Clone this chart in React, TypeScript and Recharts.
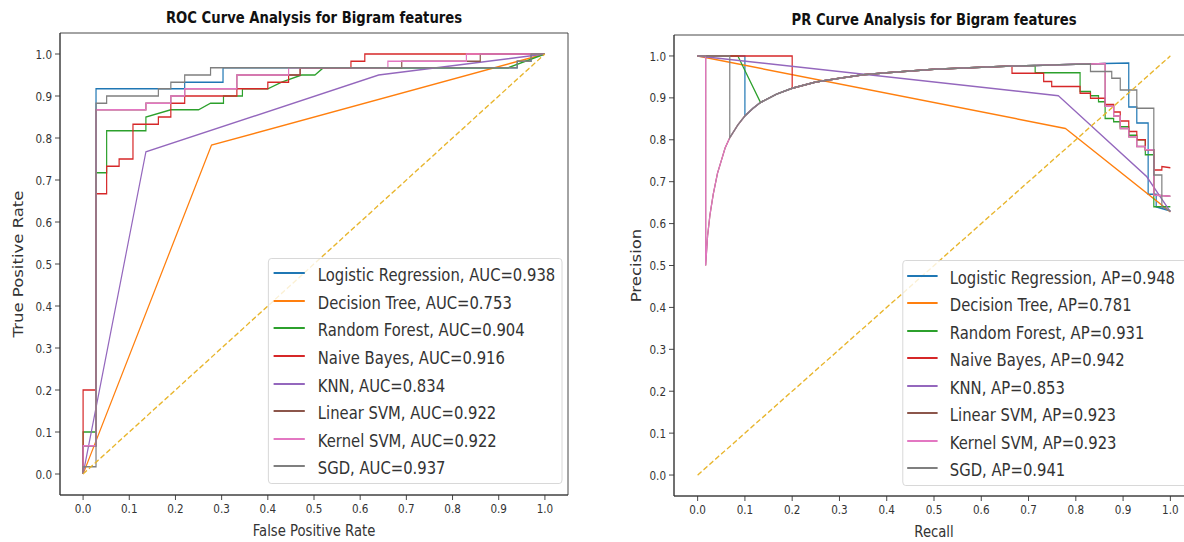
import React from "react";
import { LineChart, Line, XAxis, YAxis, Legend, ReferenceArea, Label } from "recharts";

// the reference picture is squeezed sideways, so draw wide and compress with scaleX
const SQUEEZE = 0.8;
const ux = (px: number) => px / SQUEEZE;

const FONT = "'DejaVu Sans', Verdana, sans-serif";
const INK = "#333333";

const models = ["Logistic Regression", "Decision Tree", "Random Forest", "Naive Bayes", "KNN", "Linear SVM", "Kernel SVM", "SGD"];
const colors = ["#1f77b4", "#ff7f0e", "#2ca02c", "#d62728", "#9467bd", "#8c564b", "#e377c2", "#7f7f7f"];
const rocAuc = ["0.938", "0.753", "0.904", "0.916", "0.834", "0.922", "0.922", "0.937"];
const prAp = ["0.948", "0.781", "0.931", "0.942", "0.853", "0.923", "0.923", "0.941"];
const axisTicks = [0, 0.1, 0.2, 0.3, 0.4, 0.5, 0.6, 0.7, 0.8, 0.9, 1.0];

type Pt = [number, number];

// ROC: [false positive rate, true positive rate]
const rocLogReg: Pt[] = [[0, 0], [0, 0.067], [0.028, 0.067], [0.028, 0.917], [0.22, 0.917], [0.22, 0.933], [0.303, 0.933], [0.303, 0.967], [0.94, 0.967], [0.94, 0.983], [0.97, 0.983], [0.97, 1], [1, 1]];
const rocTree: Pt[] = [[0, 0], [0.278, 0.783], [1, 1]];
const rocForest: Pt[] = [[0, 0], [0, 0.1], [0.028, 0.1], [0.028, 0.717], [0.051, 0.717], [0.051, 0.817], [0.136, 0.817], [0.136, 0.85], [0.19, 0.867], [0.25, 0.867], [0.276, 0.883], [0.304, 0.883], [0.304, 0.9], [0.345, 0.9], [0.345, 0.917], [0.4, 0.917], [0.43, 0.933], [0.473, 0.95], [0.502, 0.95], [0.52, 0.967], [0.92, 0.967], [1, 1]];
const rocBayes: Pt[] = [[0, 0], [0, 0.2], [0.028, 0.2], [0.028, 0.667], [0.051, 0.667], [0.051, 0.733], [0.078, 0.733], [0.078, 0.75], [0.108, 0.75], [0.108, 0.833], [0.163, 0.833], [0.163, 0.85], [0.19, 0.85], [0.19, 0.883], [0.22, 0.883], [0.22, 0.9], [0.333, 0.9], [0.333, 0.917], [0.4, 0.917], [0.4, 0.933], [0.445, 0.933], [0.445, 0.95], [0.47, 0.95], [0.47, 0.967], [0.58, 0.967], [0.58, 0.983], [0.61, 0.983], [0.61, 1], [1, 1]];
const rocKnn: Pt[] = [[0, 0], [0.136, 0.767], [0.64, 0.95], [1, 1]];
const rocLinearSvm: Pt[] = [[0, 0], [0, 0.067], [0.028, 0.067], [0.028, 0.867], [0.136, 0.867], [0.136, 0.883], [0.19, 0.883], [0.19, 0.9], [0.22, 0.9], [0.22, 0.917], [0.333, 0.917], [0.333, 0.95], [0.47, 0.95], [0.47, 0.967], [0.69, 0.967], [0.69, 0.983], [0.86, 0.983], [0.86, 1], [1, 1]];
const rocKernelSvm: Pt[] = [[0, 0], [0, 0.067], [0.028, 0.067], [0.028, 0.867], [0.136, 0.867], [0.136, 0.883], [0.19, 0.883], [0.19, 0.9], [0.22, 0.9], [0.22, 0.917], [0.333, 0.917], [0.333, 0.95], [0.445, 0.95], [0.445, 0.967], [0.66, 0.967], [0.66, 0.983], [0.83, 0.983], [0.83, 1], [1, 1]];
const rocSgd: Pt[] = [[0, 0], [0, 0.017], [0.028, 0.017], [0.028, 0.883], [0.051, 0.883], [0.051, 0.9], [0.163, 0.9], [0.163, 0.917], [0.19, 0.917], [0.19, 0.933], [0.22, 0.933], [0.22, 0.95], [0.276, 0.95], [0.276, 0.967], [0.94, 0.967], [0.94, 0.983], [0.97, 0.983], [0.97, 1], [1, 1]];
const chanceLine: Pt[] = [[0, 0], [1, 1]];

// PR: [recall, precision]; the thick grey arc that most curves share
const prArc: Pt[] = [[0.017, 0.5], [0.021, 0.57], [0.026, 0.62], [0.033, 0.67], [0.042, 0.72], [0.05, 0.75], [0.058, 0.78], [0.068, 0.805], [0.085, 0.835], [0.1, 0.857], [0.117, 0.875], [0.133, 0.889], [0.167, 0.909], [0.2, 0.923], [0.25, 0.938], [0.3, 0.947], [0.35, 0.955], [0.4, 0.96], [0.45, 0.964], [0.5, 0.968], [0.6, 0.973], [0.665, 0.976], [0.714, 0.977], [0.8, 0.98], [0.831, 0.981], [0.862, 0.982], [0.912, 0.983]];
const arc = (from: number, to: number) => prArc.filter(([r]) => r >= from && r <= to);

const prLogReg: Pt[] = [[0, 1], [0.1, 1], ...arc(0.1, 0.912), [0.912, 0.878], [0.929, 0.878], [0.929, 0.84], [0.953, 0.84], [0.953, 0.67], [0.97, 0.67], [0.97, 0.64], [1, 0.63]];
const prTree: Pt[] = [[0, 1], [0.778, 0.827], [1, 0.628]];
const prForest: Pt[] = [[0, 1], [0.085, 1], ...arc(0.133, 0.714), [0.714, 0.96], [0.809, 0.96], [0.809, 0.915], [0.831, 0.915], [0.831, 0.905], [0.848, 0.905], [0.848, 0.891], [0.862, 0.891], [0.862, 0.851], [0.88, 0.851], [0.88, 0.843], [0.894, 0.843], [0.894, 0.831], [0.912, 0.831], [0.912, 0.811], [0.929, 0.811], [0.929, 0.8], [0.947, 0.8], [0.947, 0.764], [0.965, 0.764], [0.965, 0.64], [1, 0.64]];
const prBayes: Pt[] = [[0, 1], [0.2, 1], ...arc(0.2, 0.665), [0.665, 0.959], [0.732, 0.959], [0.732, 0.939], [0.749, 0.939], [0.749, 0.927], [0.809, 0.927], [0.809, 0.911], [0.831, 0.911], [0.831, 0.899], [0.862, 0.899], [0.862, 0.884], [0.88, 0.884], [0.88, 0.866], [0.894, 0.866], [0.894, 0.845], [0.912, 0.845], [0.912, 0.82], [0.929, 0.82], [0.929, 0.8], [0.947, 0.8], [0.947, 0.776], [0.965, 0.776], [0.965, 0.728], [0.982, 0.728], [0.982, 0.736], [1, 0.733]];
const prKnn: Pt[] = [[0, 1], [0.763, 0.905], [0.95, 0.712], [1, 0.628]];
// both SVMs give the same curve (AP=0.923), the pink one sits on top
const prSvm: Pt[] = [[0, 1], [0.017, 1], ...arc(0.017, 0.862), [0.862, 0.88], [0.88, 0.88], [0.88, 0.857], [0.894, 0.857], [0.894, 0.827], [0.912, 0.827], [0.912, 0.807], [0.929, 0.807], [0.929, 0.784], [0.947, 0.784], [0.947, 0.776], [0.965, 0.776], [0.965, 0.668], [1, 0.665]];
const prSgd: Pt[] = [[0, 1], [0.068, 1], ...arc(0.068, 0.831), [0.831, 0.963], [0.876, 0.963], [0.876, 0.947], [0.894, 0.947], [0.894, 0.919], [0.929, 0.919], [0.929, 0.875], [0.965, 0.875], [0.965, 0.716], [0.982, 0.716], [0.982, 0.64], [1, 0.63]];

const rocSeries = [rocLogReg, rocTree, rocForest, rocBayes, rocKnn, rocLinearSvm, rocKernelSvm, rocSgd];
const prSeries = [prLogReg, prTree, prForest, prBayes, prKnn, prSvm, prSvm, prSgd];

const toRows = (pts: Pt[]) => pts.map(([x, y]) => ({ x, y }));
const fmt = (v: number) => v.toFixed(1);

type Box = { left: number; top: number; right: number; bottom: number };
type LegendGeo = Box & { swatchLeft: number; textLeft: number; firstRow: number; rowPitch: number };

type PanelProps = {
  left: number;
  width: number;
  plot: Box;
  title: string;
  titleBaseline: number;
  xLabel: string;
  xLabelBaseline: number;
  yLabel: string;
  yLabelX: number;
  series: Pt[][];
  labels: string[];
  legend: LegendGeo;
};

const LegendBox = ({ payload, labels, geo }: { payload?: any[]; labels: string[]; geo: LegendGeo }) => {
  const items = [...(payload ?? [])]
    .filter((p) => labels.includes(String(p.value)))
    .sort((a, b) => labels.indexOf(String(a.value)) - labels.indexOf(String(b.value)));
  return (
    <div
      style={{
        position: "relative",
        width: "100%",
        height: geo.bottom - geo.top,
        boxSizing: "border-box",
        border: "1px solid #d4d4d4",
        borderRadius: 4,
        background: "rgba(255,255,255,0.8)",
        fontFamily: FONT,
      }}
    >
      {items.map((it, i) => {
        const cy = Math.round(geo.firstRow - geo.top + i * geo.rowPitch);
        const idx = labels.indexOf(String(it.value));
        return (
          <React.Fragment key={String(it.value)}>
            <div
              style={{
                position: "absolute",
                left: ux(geo.swatchLeft - geo.left),
                top: cy - 3,
                width: ux(31),
                height: 2,
                background: colors[idx],
              }}
            />
            <span
              style={{
                position: "absolute",
                left: ux(geo.textLeft - geo.left),
                top: cy,
                transform: "translateY(-50%)",
                fontSize: 18.5,
                lineHeight: 1,
                color: INK,
                whiteSpace: "nowrap",
              }}
            >
              {it.value}
            </span>
          </React.Fragment>
        );
      })}
    </div>
  );
};

const Panel = (p: PanelProps) => {
  const W = ux(p.width);
  const yAxisW = ux(p.plot.left - p.left);
  const plotW = ux(p.plot.right - p.plot.left);
  const marginRight = W - yAxisW - plotW;
  const xAxisH = 542 - p.plot.bottom;
  const plotCx = yAxisW + plotW / 2;
  const plotCy = (p.plot.top + p.plot.bottom) / 2;
  const tickStyle = { fontSize: 13, fill: INK, fontFamily: FONT };
  const yx = ux(p.yLabelX - p.left);

  return (
    <div style={{ position: "absolute", left: ux(p.left), top: 0, width: W, height: 542 }}>
      <div
        style={{
          position: "absolute",
          left: yAxisW,
          width: plotW,
          top: p.titleBaseline - 0.846 * 16.5,
          textAlign: "center",
          fontFamily: FONT,
          fontWeight: "bold",
          fontSize: 16.5,
          lineHeight: 1,
          color: "#111",
          whiteSpace: "nowrap",
          zIndex: 2,
        }}
      >
        {p.title}
      </div>
      <LineChart width={W} height={542} margin={{ top: p.plot.top, right: marginRight, bottom: 0, left: 0 }}>
        <XAxis
          dataKey="x"
          type="number"
          domain={[-0.05, 1.05]}
          allowDataOverflow
          ticks={axisTicks}
          interval={0}
          tickFormatter={fmt}
          height={xAxisH}
          tickSize={5}
          tickMargin={4}
          stroke={INK}
          tick={tickStyle}
        >
          <Label
            content={() => (
              <text x={plotCx} y={p.xLabelBaseline} textAnchor="middle" fontFamily={FONT} fontSize={16.5} fill={INK}>
                {p.xLabel}
              </text>
            )}
          />
        </XAxis>
        <YAxis
          type="number"
          domain={[-0.05, 1.05]}
          allowDataOverflow
          ticks={axisTicks}
          interval={0}
          tickFormatter={fmt}
          width={yAxisW}
          tickSize={ux(5)}
          tickMargin={ux(3)}
          stroke={INK}
          tick={tickStyle}
        >
          <Label
            content={() => (
              <text
                x={yx}
                y={plotCy}
                transform={`rotate(-90, ${yx}, ${plotCy})`}
                textAnchor="middle"
                fontFamily={FONT}
                fontSize={16.5}
                fill={INK}
              >
                {p.yLabel}
              </text>
            )}
          />
        </YAxis>
        <ReferenceArea x1={-0.05} x2={1.05} y1={-0.05} y2={1.05} fill="none" stroke={INK} strokeWidth={1} ifOverflow="visible" />
        {p.series.map((pts, i) => (
          <Line
            key={p.labels[i]}
            data={toRows(pts)}
            dataKey="y"
            name={p.labels[i]}
            type="linear"
            stroke={colors[i]}
            strokeWidth={1.5}
            dot={false}
            activeDot={false}
            isAnimationActive={false}
          />
        ))}
        <Line
          data={toRows(chanceLine)}
          dataKey="y"
          name="chance"
          type="linear"
          stroke="#e8b52c"
          strokeWidth={1.5}
          strokeDasharray="6 3"
          dot={false}
          activeDot={false}
          legendType="none"
          isAnimationActive={false}
        />
        <Legend
          layout="vertical"
          align="center"
          verticalAlign="middle"
          wrapperStyle={{
            left: ux(p.legend.left - p.left),
            top: p.legend.top,
            width: ux(p.legend.right - p.legend.left),
            height: p.legend.bottom - p.legend.top,
          }}
          content={(lp: any) => <LegendBox payload={lp.payload} labels={p.labels} geo={p.legend} />}
        />
      </LineChart>
    </div>
  );
};

export default function App() {
  return (
    <div style={{ position: "fixed", left: 0, top: 0, width: 1184, height: 542, overflow: "hidden", background: "#fff" }}>
      <div
        style={{
          position: "absolute",
          left: 0,
          top: 0,
          width: ux(1184),
          height: 542,
          transform: `scaleX(${SQUEEZE})`,
          transformOrigin: "0 0",
        }}
      >
        <Panel
          left={0}
          width={590}
          plot={{ left: 60, right: 568, top: 33, bottom: 495 }}
          title="ROC Curve Analysis for Bigram features"
          titleBaseline={24}
          xLabel="False Positive Rate"
          xLabelBaseline={536}
          yLabel="True Positive Rate"
          yLabelX={22.8}
          series={rocSeries}
          labels={models.map((m, i) => `${m}, AUC=${rocAuc[i]}`)}
          legend={{ left: 268, top: 258, right: 562, bottom: 484, swatchLeft: 273, textLeft: 317, firstRow: 274.3, rowPitch: 27.57 }}
        />
        <Panel
          left={600}
          width={620}
          plot={{ left: 674, right: 1194, top: 35, bottom: 496 }}
          title="PR Curve Analysis for Bigram features"
          titleBaseline={26}
          xLabel="Recall"
          xLabelBaseline={537}
          yLabel="Precision"
          yLabelX={640.8}
          series={prSeries}
          labels={models.map((m, i) => `${m}, AP=${prAp[i]}`)}
          legend={{ left: 902, top: 260, right: 1187, bottom: 486, swatchLeft: 906, textLeft: 949, firstRow: 276.7, rowPitch: 27.5 }}
        />
      </div>
    </div>
  );
}
